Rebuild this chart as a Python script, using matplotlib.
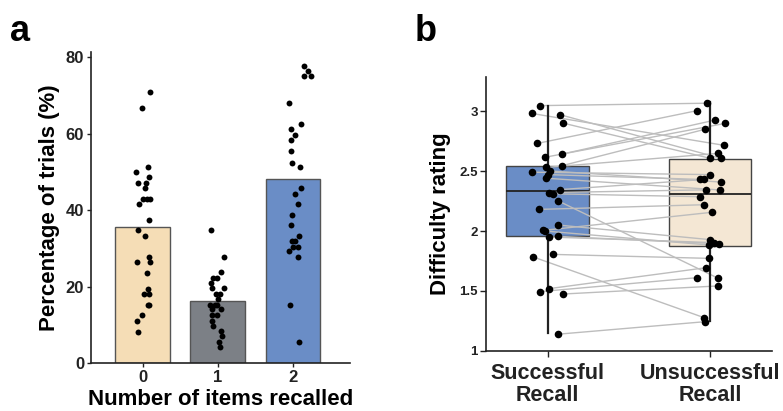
import matplotlib.pyplot as plt
import numpy as np

plt.rcParams['font.family'] = ['Liberation Sans', 'DejaVu Sans']
plt.rcParams['font.weight'] = 'bold'

# ---- panel a: percentage of trials by number of items recalled
recalled_labels = ['0', '1', '2']
bar_means = [35.6, 16.2, 48.1]
bar_colors = ['#F5DDB6', '#7C8086', '#6A8DC6']

pct_0 = [70.8, 66.6, 51.3, 49.9, 48.6, 47.1, 47.1, 45.8, 42.9, 42.9, 42.9, 41.5, 37.4, 34.8,
         33.2, 27.7, 26.4, 26.4, 23.6, 19.4, 18.1, 18.1, 15.3, 15.3, 12.5, 11.0, 8.2]
jit_0 = [0.094, -0.013, 0.063, -0.089, 0.085, -0.067, 0.045, 0.027, 0.0, 0.054, 0.094, -0.045, 0.08, -0.067,
         0.027, 0.089, -0.076, 0.094, 0.054, 0.063, 0.018, 0.08, 0.063, 0.089, -0.004, -0.076, -0.067]
pct_1 = [34.7, 27.7, 23.7, 22.3, 22.3, 20.9, 19.5, 19.5, 18.1, 18.1, 16.7, 15.3, 15.3, 15.3,
         14.0, 14.0, 12.6, 12.6, 11.0, 9.7, 8.3, 7.0, 5.5, 4.2]
jit_1 = [-0.096, 0.083, 0.047, -0.065, -0.007, -0.096, -0.074, 0.078, -0.029, 0.025, 0.0, -0.1, -0.038, -0.007,
         -0.078, 0.047, -0.074, -0.007, -0.074, -0.065, 0.042, 0.051, 0.016, 0.025]
pct_2 = [77.7, 76.4, 75.0, 75.0, 68.0, 62.4, 61.1, 59.6, 58.3, 55.5, 52.4, 51.3, 45.8, 44.3,
         41.6, 38.8, 36.0, 33.2, 31.9, 31.9, 30.4, 30.4, 29.2, 27.7, 15.2, 5.5]
jit_2 = [0.146, 0.199, 0.146, 0.239, -0.046, 0.105, -0.02, 0.021, -0.029, -0.029, -0.011, 0.096, 0.101, 0.029,
         0.07, -0.015, -0.029, 0.079, -0.006, 0.034, 0.003, 0.074, -0.046, 0.061, -0.037, 0.083]

# ---- panel b: difficulty ratings, paired per participant
conditions = ['Successful\nRecall', 'Unsuccessful\nRecall']
box_colors = ['#6A8DC6', '#F4E7D4']
rating_succ = [3.045, 2.98, 2.97, 2.90, 2.73, 2.615, 2.64, 2.545, 2.53, 2.49, 2.50, 2.47, 2.44, 2.345, 2.32,
               2.31, 2.25, 2.18, 2.05, 2.005, 2.0, 1.95, 1.955, 1.785, 1.805, 1.52, 1.495, 1.475, 1.14]
rating_unsucc = [3.065, 2.714, 2.606, 2.606, 3.003, 2.897, 2.925, 2.847, 2.647, 2.47, 2.408, 2.43, 2.342, 2.43, 2.343,
                 2.286, 1.608, 2.219, 1.928, 2.156, 1.883, 1.903, 1.894, 1.278, 1.772, 1.694, 1.611, 1.542, 1.244]
jit_succ = [-0.049, -0.099, 0.074, 0.092, -0.064, -0.015, 0.086, 0.09, -0.01, -0.098, 0.016, 0.0, -0.01, 0.078, 0.01,
            0.035, 0.066, -0.055, 0.062, -0.027, -0.018, 0.005, 0.066, -0.092, 0.035, 0.01, -0.045, 0.097, 0.064]
jit_unsucc = [-0.016, 0.086, 0.066, 0.0, -0.08, 0.094, 0.033, -0.033, 0.051, 0.0, 0.067, -0.062, 0.06, -0.035, -0.027,
              -0.06, 0.047, -0.037, 0.0, 0.012, -0.004, 0.025, 0.054, -0.037, -0.008, -0.025, -0.08, 0.047, -0.033]
box_stats = [
    dict(med=2.331, q1=1.956, q3=2.542, whislo=1.153, whishi=3.042, fliers=[]),
    dict(med=2.308, q1=1.878, q3=2.603, whislo=1.25, whishi=3.075, fliers=[]),
]

fig = plt.figure(figsize=(7.83, 4.11), dpi=100)
axa = fig.add_axes([0.1162, 0.1168, 0.3308, 0.7572])
axb = fig.add_axes([0.6207, 0.146, 0.3649, 0.6674])

# panel a
xs = np.arange(len(bar_means))
axa.bar(xs, bar_means, width=0.73, color=bar_colors, edgecolor='#555555', linewidth=1.0, zorder=1)
for i, (vals, jit) in enumerate([(pct_0, jit_0), (pct_1, jit_1), (pct_2, jit_2)]):
    axa.scatter(i + np.array(jit), vals, s=18, color='black', zorder=3, linewidths=0)
axa.set_xlim(-0.69, 2.76)
axa.set_ylim(0, 81.4)
axa.set_yticks([0, 20, 40, 60, 80])
axa.set_xticks(xs)
axa.set_xticklabels(recalled_labels)
axa.set_ylabel('Percentage of trials (%)', fontsize=16, fontweight='bold', labelpad=4)
axa.set_xlabel('Number of items recalled', fontsize=16, fontweight='bold', labelpad=3)

# panel b
for s, u, js, ju in zip(rating_succ, rating_unsucc, jit_succ, jit_unsucc):
    axb.plot([0 + js, 1 + ju], [s, u], color='#BDBDBD', lw=1.0, zorder=2)
bp = axb.bxp(box_stats, positions=[0, 1], widths=0.51, showcaps=False, patch_artist=True,
             boxprops=dict(edgecolor='#444444', linewidth=1.0),
             medianprops=dict(color='#222222', linewidth=1.3),
             whiskerprops=dict(color='#222222', linewidth=1.6))
for patch, c in zip(bp['boxes'], box_colors):
    patch.set_facecolor(c)
    patch.set_zorder(1)
for w in bp['whiskers']:
    w.set_zorder(2.5)
for m in bp['medians']:
    m.set_zorder(1.5)
axb.scatter(np.array(jit_succ), rating_succ, s=30, color='black', zorder=3, linewidths=0)
axb.scatter(1 + np.array(jit_unsucc), rating_unsucc, s=30, color='black', zorder=3, linewidths=0)
axb.set_xlim(-0.38, 1.38)
axb.set_ylim(1, 3.286)
axb.set_yticks([1, 1.5, 2, 2.5, 3])
axb.set_yticklabels(['1', '1.5', '2', '2.5', '3'])
axb.set_xticks([0, 1])
axb.set_xticklabels(conditions, fontsize=15.5, fontweight='bold', linespacing=1.05)
axb.set_ylabel('Difficulty rating', fontsize=16, fontweight='bold', labelpad=6)

for ax in (axa, axb):
    for side in ('top', 'right'):
        ax.spines[side].set_visible(False)
    for side in ('left', 'bottom'):
        ax.spines[side].set_linewidth(1.2)
        ax.spines[side].set_color('#222222')
    ax.tick_params(length=3, width=1, color='#222222', labelcolor='#222222', pad=2)
axa.tick_params(labelsize=12)
axb.tick_params(axis='y', labelsize=9.5, length=4)
axb.tick_params(axis='x', length=4, pad=5)

fig.text(0.013, 0.965, 'a', fontsize=26, fontweight='bold', va='top', ha='left')
fig.text(0.530, 0.965, 'b', fontsize=26, fontweight='bold', va='top', ha='left')

fig.savefig('out.png', dpi=100)
